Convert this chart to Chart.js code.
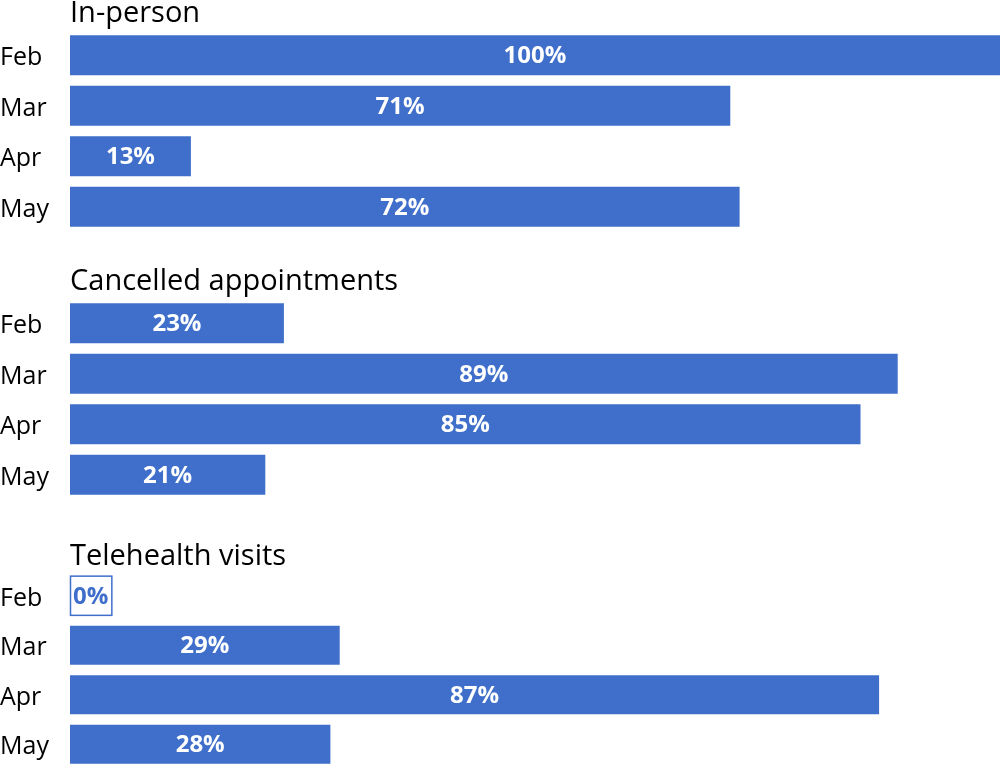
<!DOCTYPE html>
<html>
<head>
<meta charset="utf-8">
<script src="https://cdn.jsdelivr.net/npm/chart.js@4.4.0/dist/chart.umd.min.js"></script>
<style>
  html, body { margin: 0; padding: 0; background: #fff; overflow: hidden; }
  body { width: 1000px; height: 766px; position: relative; }
  .panel { position: absolute; left: 0; width: 1000px; }
</style>
</head>
<body>
<div class="panel" id="p1" style="top:0px;height:247px"><canvas id="c1"></canvas></div>
<div class="panel" id="p2" style="top:262px;height:253px"><canvas id="c2"></canvas></div>
<div class="panel" id="p3" style="top:535px;height:249px"><canvas id="c3"></canvas></div>
<script>
var months = ['Feb', 'Mar', 'Apr', 'May'];
var inPerson = [100, 71, 13, 72];
var cancelled = [23, 89, 85, 21];
var telehealth = [0, 29, 87, 28];
var titles = ['In-person', 'Cancelled appointments', 'Telehealth visits'];

var barColor = '#3f6fca';
var fontFamily = '"Open Sans", "Noto Sans", sans-serif';

// draws the panel title and the percent labels
var panelLabels = {
    id: 'panelLabels',
    afterDatasetsDraw: function(chart, args, opts) {
        var ctx = chart.ctx;
        ctx.save();
        ctx.fillStyle = '#000';
        ctx.font = '29px ' + fontFamily;
        ctx.textAlign = 'left';
        ctx.textBaseline = 'alphabetic';
        ctx.fillText(opts.title, chart.chartArea.left, chart.chartArea.top - opts.titleGap);

        var meta = chart.getDatasetMeta(0);
        var values = chart.data.datasets[0].data;
        ctx.font = 'bold 24px ' + fontFamily;
        ctx.textBaseline = 'middle';
        meta.data.forEach(function(bar, i) {
            var txt = values[i] + '%';
            if (values[i] === 0) {
                var w = ctx.measureText(txt).width;
                var h = bar.height;
                ctx.strokeStyle = barColor;
                ctx.lineWidth = 1.5;
                ctx.strokeRect(bar.base + 0.5, bar.y - h / 2, w + 6, h);
                ctx.fillStyle = barColor;
                ctx.textAlign = 'left';
                ctx.fillText(txt, bar.base + 3, bar.y + 1);
            } else {
                ctx.fillStyle = '#fff';
                ctx.textAlign = 'center';
                ctx.fillText(txt, (bar.x + bar.base) / 2, bar.y + 1);
            }
        });
        ctx.restore();
    }
};

function makePanel(id, values, title, padTop, titleGap) {
    new Chart(document.getElementById(id), {
        type: 'bar',
        data: {
            labels: months,
            datasets: [{
                data: values,
                backgroundColor: barColor,
                borderWidth: 0,
                barPercentage: 0.88,
                categoryPercentage: 0.9
            }]
        },
        options: {
            indexAxis: 'y',
            responsive: true,
            maintainAspectRatio: false,
            animation: false,
            layout: { padding: { top: padTop, left: 0, right: 0, bottom: 0 } },
            plugins: {
                legend: { display: false },
                tooltip: { enabled: false },
                panelLabels: { title: title, titleGap: titleGap }
            },
            scales: {
                x: { display: false, min: 0, max: 100 },
                y: {
                    grid: { display: false },
                    border: { display: false },
                    ticks: {
                        color: '#000',
                        font: { size: 25, family: fontFamily },
                        crossAlign: 'far',
                        padding: 0,
                        labelOffset: 3
                    },
                    afterFit: function(scale) { scale.width = 70; }
                }
            }
        },
        plugins: [panelLabels]
    });
}

makePanel('c1', inPerson, titles[0], 30, 8);
makePanel('c2', cancelled, titles[1], 36, 8);
makePanel('c3', telehealth, titles[2], 36, 6);
</script>
</body>
</html>
